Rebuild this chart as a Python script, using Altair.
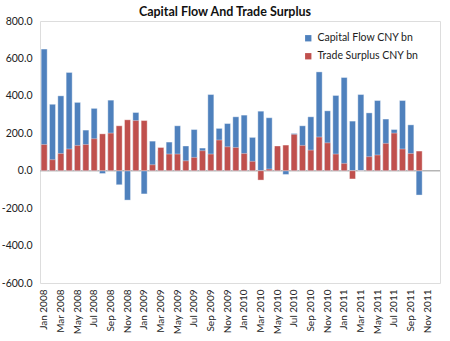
import altair as alt
import pandas as pd

month_names = ["Jan", "Feb", "Mar", "Apr", "May", "Jun",
               "Jul", "Aug", "Sep", "Oct", "Nov", "Dec"]
years = [2008, 2009, 2010, 2011]
all_months = [f"{m} {y}" for y in years for m in month_names]  # Jan 2008 .. Dec 2011

capital_flow = [650, 355, 400, 525, 365, 217, 333, -15, 377, -75, -157, 311,
                -124, 158, 105, 153, 240, 132, 220, 121, 407, 226, 252, 288,
                297, 178, 318, 283, 120, -20, 199, 240, 288, 528, 320, 402,
                498, 265, 407, 309, 375, 276, 220, 375, 245, -130]
trade_surplus = [140, 59, 92, 116, 135, 140, 171, 197, 201, 240, 272, 268,
                 268, 32, 124, 89, 89, 53, 71, 107, 89, 164, 128, 124,
                 92, 50, -50, 9, 132, 137, 194, 135, 110, 180, 149, 89,
                 39, -44, -1, 75, 84, 146, 201, 116, 92, 105]
series_names = ["Capital Flow CNY bn", "Trade Surplus CNY bn"]
series_colors = ["#4F81BD", "#C0504D"]
y_ticks = [-600, -400, -200, 0, 200, 400, 600, 800]

rows = []
for i in range(len(capital_flow)):
    rows.append({"month": all_months[i], "series": series_names[0], "value": capital_flow[i]})
    rows.append({"month": all_months[i], "series": series_names[1], "value": trade_surplus[i]})
df = pd.DataFrame(rows)

label_months = all_months[::2]

FONT = "Lato"

y_scale = alt.Scale(domain=[-600, 800], nice=False)
y_axis = alt.Axis(title=None, values=y_ticks, grid=False, ticks=False,
                  domain=False, labelPadding=8, labelFontSize=10.5,
                  labelFont=FONT, labelColor="#222222",
                  labelOverlap=False, labelFlush=False,
                  labelExpr="datum.value < 0 ? '-' + format(-datum.value, '.1f') : format(datum.value, '.1f')")

zero = alt.Chart(pd.DataFrame({"value": [0]})).mark_rule(
    color="#b5b5b5", strokeWidth=1.5
).encode(y=alt.Y("value:Q", scale=y_scale, axis=y_axis))

bars = alt.Chart(df).mark_bar(stroke="#ffffff", strokeWidth=0.6, strokeOpacity=0.6).encode(
    x=alt.X("month:N", sort=all_months,
            scale=alt.Scale(domain=all_months, paddingInner=0.28, paddingOuter=0.14),
            axis=alt.Axis(title=None, values=label_months, labelAngle=270,
                          ticks=False, domain=False, labelPadding=6,
                          labelFontSize=10, labelFont=FONT, labelColor="#222222",
                          labelOverlap=False)),
    y=alt.Y("value:Q", stack=None, scale=y_scale, axis=y_axis),
    color=alt.Color("series:N",
                    scale=alt.Scale(domain=series_names, range=series_colors),
                    legend=alt.Legend(title=None, orient="none", legendX=263, legendY=12,
                                      symbolType="square", symbolSize=40,
                                      symbolStrokeWidth=0, labelFontSize=10.5,
                                      labelFont=FONT, labelColor="#222222",
                                      rowPadding=7, labelOffset=4)),
)

chart = alt.layer(zero, bars).properties(
    width=400,
    height=262,
    autosize="none",
    padding={"left": 40, "top": 21, "right": 10, "bottom": 58},
    title=alt.Title("Capital Flow And Trade Surplus", fontSize=12.5, font=FONT,
                    fontWeight="bold", anchor="middle", dx=-15, dy=7, offset=5,
                    color="#111111"),
).configure_view(
    stroke="#4d4d4d", strokeWidth=1
).configure_axis(
    labelOverlap=False
).configure(background="white")

chart.save("out.html", embed_options={"renderer": "svg", "actions": False})
